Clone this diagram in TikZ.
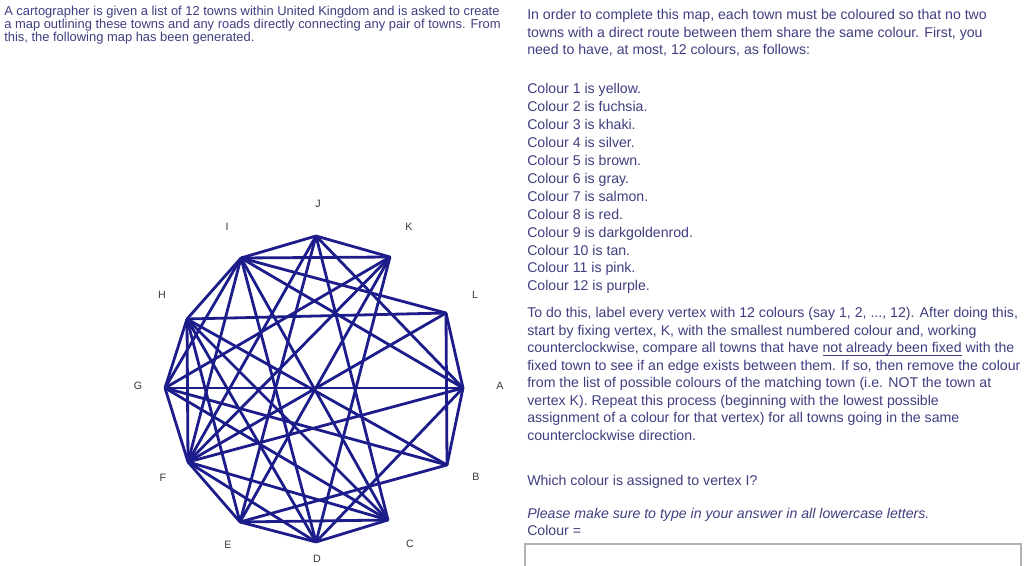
\documentclass[tikz,border=0pt]{standalone}
\usepackage{fontspec}
\setmainfont{Liberation Sans}
\usepackage{xcolor}
\usetikzlibrary{positioning}

\definecolor{roadblue}{RGB}{28,28,138}
\definecolor{textblue}{RGB}{62,62,128}
\definecolor{labelgray}{RGB}{55,55,55}

\begin{document}
\begin{tikzpicture}[
    x=0.75pt, y=-0.75pt,
    town/.style={inner sep=0pt, minimum size=0pt},
    townlabel/.style={inner sep=0pt, text=labelgray, font=\fontsize{8}{9}\selectfont},
    road/.style={draw=roadblue, line width=2.1pt, line cap=round, line join=round},
    prose/.style={anchor=base west, inner sep=0pt, text=textblue, font=\fontsize{10.6}{12}\selectfont},
    smallprose/.style={prose, font=\fontsize{9.7}{11}\selectfont}
  ]
  \useasboundingbox (0,0) rectangle (1029,566);

  % Question text
  \node[smallprose] (intro1) at (4,16)   {A cartographer is given a list of 12 towns within United Kingdom and is asked to create};
  \node[smallprose] (intro2) at (4,29)   {a map outlining these towns and any roads directly connecting any pair of towns. From};
  \node[smallprose] (intro3) at (4,42)   {this, the following map has been generated.};

  \node[prose] (rule1) at (527,20)   {In order to complete this map, each town must be coloured so that no two};
  \node[prose] (rule2) at (527,37.5) {towns with a direct route between them share the same colour. First, you};
  \node[prose] (rule3) at (527,55)   {need to have, at most, 12 colours, as follows:};

  \node[prose] (col1)  at (527,94)  {Colour 1 is yellow.};
  \node[prose] (col2)  at (527,112) {Colour 2 is fuchsia.};
  \node[prose] (col3)  at (527,130) {Colour 3 is khaki.};
  \node[prose] (col4)  at (527,148) {Colour 4 is silver.};
  \node[prose] (col5)  at (527,166) {Colour 5 is brown.};
  \node[prose] (col6)  at (527,184) {Colour 6 is gray.};
  \node[prose] (col7)  at (527,202) {Colour 7 is salmon.};
  \node[prose] (col8)  at (527,220) {Colour 8 is red.};
  \node[prose] (col9)  at (527,238) {Colour 9 is darkgoldenrod.};
  \node[prose] (col10) at (527,256) {Colour 10 is tan.};
  \node[prose] (col11) at (527,273) {Colour 11 is pink.};
  \node[prose] (col12) at (527,291) {Colour 12 is purple.};

  \node[prose] (how1) at (527,318) {To do this, label every vertex with 12 colours (say 1, 2, ..., 12). After doing this,};
  \node[prose] (how2) at (527,336) {start by fixing vertex, K, with the smallest numbered colour and, working};
  \node[prose] (how3) at (527,353) {counterclockwise, compare all towns that have \underline{\smash{not already been fixed}} with the};
  \node[prose] (how4) at (527,371) {fixed town to see if an edge exists between them. If so, then remove the colour};
  \node[prose] (how5) at (527,388) {from the list of possible colours of the matching town (i.e. NOT the town at};
  \node[prose] (how6) at (527,406) {vertex K). Repeat this process (beginning with the lowest possible};
  \node[prose] (how7) at (527,423) {assignment of a colour for that vertex) for all towns going in the same};
  \node[prose] (how8) at (527,441) {counterclockwise direction.};

  \node[prose] (ask)   at (527,486) {Which colour is assigned to vertex I?};
  \node[prose] (note)  at (527,519) {\itshape Please make sure to type in your answer in all lowercase letters.};
  \node[prose] (field) at (527,536) {Colour =};
  \draw[gray!60, line width=1.2pt] (525,575) |- (1021,544) -- (1021,575);

  % Towns
  \node[town] (J) at (316,236) {};
  \node[town] (K) at (390,257) {};
  \node[town] (L) at (446,313) {};
  \node[town] (A) at (463,388) {};
  \node[town] (B) at (447,465) {};
  \node[town] (C) at (388,520) {};
  \node[town] (D) at (316,542) {};
  \node[town] (E) at (240,522) {};
  \node[town] (F) at (188,462) {};
  \node[town] (G) at (165,388) {};
  \node[town] (H) at (187,319) {};
  \node[town] (I) at (241,258) {};

  % Town letters
  \node[townlabel] (lJ) at (318,204) {J};
  \node[townlabel] (lK) at (409,227) {K};
  \node[townlabel] (lL) at (475,295) {L};
  \node[townlabel] (lA) at (500,386) {A};
  \node[townlabel] (lB) at (476,477) {B};
  \node[townlabel] (lC) at (410,544) {C};
  \node[townlabel] (lD) at (317,559) {D};
  \node[townlabel] (lE) at (228,545) {E};
  \node[townlabel] (lF) at (163,478) {F};
  \node[townlabel] (lG) at (138,386) {G};
  \node[townlabel] (lH) at (162,295) {H};
  \node[townlabel] (lI) at (227,227) {I};

  % Roads
  \draw[road] (K) -- (J) -- (I) -- (H) -- (G) -- (F) -- (E) -- (D) -- (C);
  \draw[road] (L) -- (A) -- (B);
  \draw[road] (I) -- (K);
  \draw[road] (H) -- (L);
  \draw[road] (G) -- (A);
  \draw[road] (E) -- (C);
  \draw[road] (L) -- (B);
  \draw[road] (H) -- (F);
  \draw[road] (B) -- (H);
  \draw[road] (C) -- (I);
  \draw[road] (E) -- (K);
  \draw[road] (J) -- (A);
  \draw[road] (J) -- (E);
  \draw[road] (J) -- (F);
  \draw[road] (I) -- (L);
  \draw[road] (I) -- (A);
  \draw[road] (I) -- (D);
  \draw[road] (I) -- (F);
  \draw[road] (H) -- (C);
  \draw[road] (H) -- (D);
  \draw[road] (H) -- (E);
  \draw[road] (G) -- (K);
  \draw[road] (G) -- (I);
  \draw[road] (G) -- (B);
  \draw[road] (G) -- (C);
  \draw[road] (F) -- (A);
  \draw[road] (F) -- (C);
  \draw[road] (F) -- (D);
  \draw[road] (F) -- (K);
  \draw[road] (F) -- (L);
  \draw[road] (E) -- (B);
  \draw[road] (D) -- (K);
  \draw[road] (D) -- (A);
  \draw[road] (C) -- (J);

\end{tikzpicture}
\end{document}
